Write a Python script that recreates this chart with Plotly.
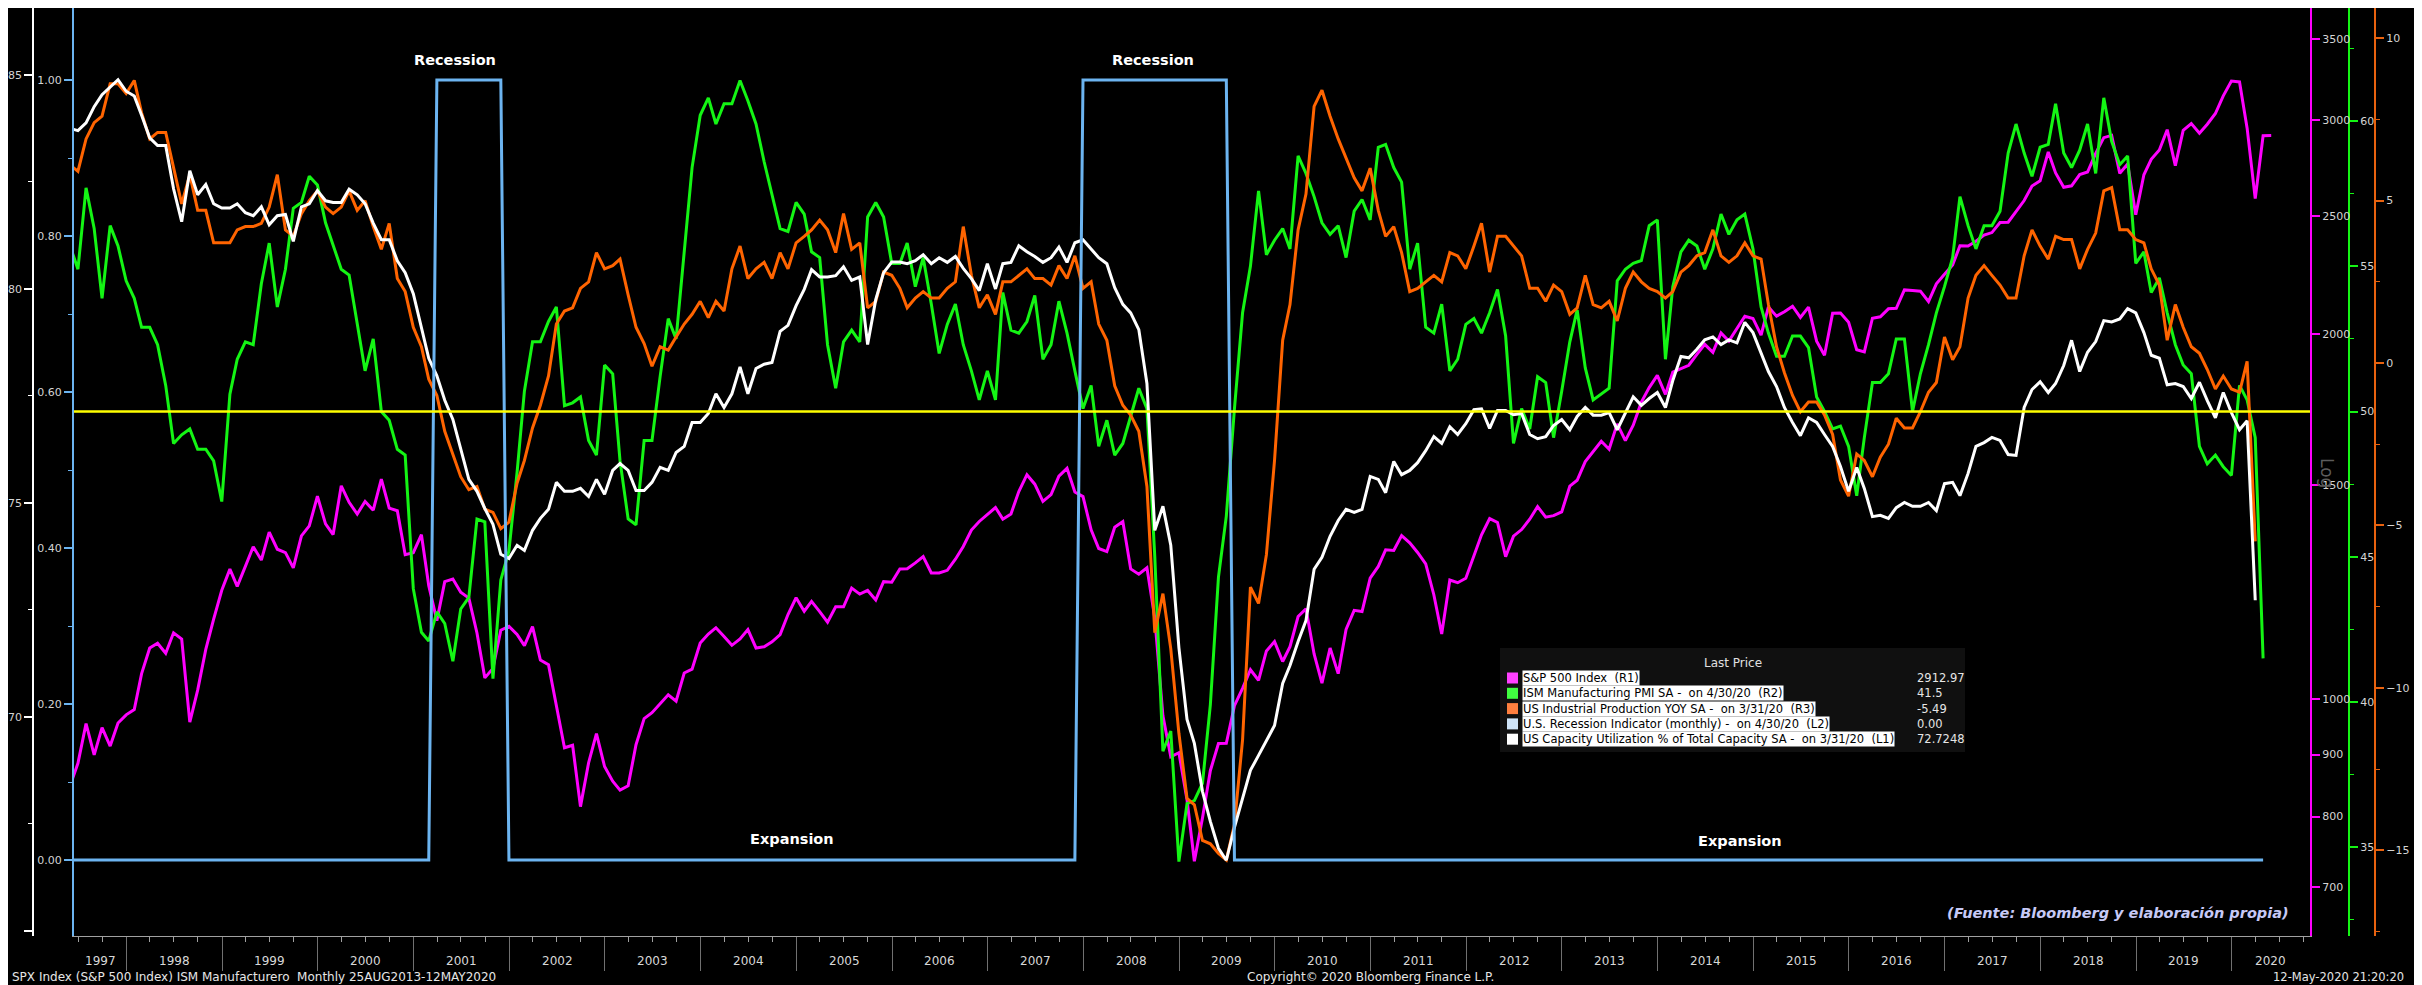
import pandas as pd
import plotly.graph_objects as go

# Reference canvas is 2422x985; the page body adds an 8px white margin on top/left,
# so the figure itself is 8px smaller and every position below is in reference pixels.
W, H = 2422, 985
OFF = 8
FW, FH = W - OFF, H - OFF

# Monthly (month-end) values from May-1997; the May-1997 point sits just left of the plot edge.
SPX = [
    848.28, 885.14, 954.31, 899.47, 947.28, 914.62, 955.40, 970.43,
    980.28, 1049.34, 1101.75, 1111.75, 1090.82, 1133.84, 1120.67, 957.28, 1017.01, 1098.67, 1163.63, 1229.23,
    1279.64, 1238.33, 1286.37, 1335.18, 1301.84, 1372.71, 1328.72, 1320.41, 1282.71, 1362.93, 1388.91, 1469.25,
    1394.46, 1366.42, 1498.58, 1452.43, 1420.60, 1454.60, 1430.83, 1517.68, 1436.51, 1429.40, 1314.95, 1320.28,
    1366.01, 1239.94, 1160.33, 1249.46, 1255.82, 1224.42, 1211.23, 1133.58, 1040.94, 1059.78, 1139.45, 1148.08,
    1130.20, 1106.73, 1147.39, 1076.92, 1067.14, 989.82, 911.62, 916.07, 815.28, 885.76, 936.31, 879.82,
    855.70, 841.15, 848.18, 916.92, 963.59, 974.50, 990.31, 1008.01, 995.97, 1050.71, 1058.20, 1111.92,
    1131.13, 1144.94, 1126.21, 1107.30, 1120.68, 1140.84, 1101.72, 1104.24, 1114.58, 1130.20, 1173.82, 1211.92,
    1181.27, 1203.60, 1180.59, 1156.85, 1191.50, 1191.33, 1234.18, 1220.33, 1228.81, 1207.01, 1249.48, 1248.29,
    1280.08, 1280.66, 1294.83, 1310.61, 1270.09, 1270.20, 1276.66, 1303.82, 1335.85, 1377.94, 1400.63, 1418.30,
    1438.24, 1406.82, 1420.86, 1482.37, 1530.62, 1503.35, 1455.27, 1473.99, 1526.75, 1549.38, 1481.14, 1468.36,
    1378.55, 1330.63, 1322.70, 1385.59, 1400.38, 1280.00, 1267.38, 1282.83, 1166.36, 968.75, 896.24, 903.25,
    825.88, 735.09, 797.87, 872.81, 919.14, 919.32, 987.48, 1020.62, 1057.08, 1036.19, 1095.63, 1115.10,
    1073.87, 1104.49, 1169.43, 1186.69, 1089.41, 1030.71, 1101.60, 1049.33, 1141.20, 1183.26, 1180.55, 1257.64,
    1286.12, 1327.22, 1325.83, 1363.61, 1345.20, 1320.64, 1292.28, 1218.89, 1131.42, 1253.30, 1246.96, 1257.60,
    1312.41, 1365.68, 1408.47, 1397.91, 1310.33, 1362.16, 1379.32, 1406.58, 1440.67, 1412.16, 1416.18, 1426.19,
    1498.11, 1514.68, 1569.19, 1597.57, 1630.74, 1606.28, 1685.73, 1632.97, 1681.55, 1756.54, 1805.81, 1848.36,
    1782.59, 1859.45, 1872.34, 1883.95, 1923.57, 1960.23, 1930.67, 2003.37, 1972.29, 2018.05, 2067.56, 2058.90,
    1994.99, 2104.50, 2067.89, 2085.51, 2107.39, 2063.11, 2103.84, 1972.18, 1920.03, 2079.36, 2080.41, 2043.94,
    1940.24, 1932.23, 2059.74, 2065.30, 2096.95, 2098.86, 2173.60, 2170.95, 2168.27, 2126.15, 2198.81, 2238.83,
    2278.87, 2363.64, 2362.72, 2384.20, 2411.80, 2423.41, 2470.30, 2471.65, 2519.36, 2575.26, 2647.58, 2673.61,
    2823.81, 2713.83, 2640.87, 2648.05, 2705.27, 2718.37, 2816.29, 2901.52, 2913.98, 2711.74, 2760.17, 2506.85,
    2704.10, 2784.49, 2834.40, 2945.83, 2752.06, 2941.76, 2980.38, 2926.46, 2976.74, 3037.56, 3140.98, 3230.78,
    3225.52, 2954.22, 2584.59, 2912.43, 2912.97,
]

ISM_PMI = [
    55.7, 54.9, 57.7, 56.3, 53.9, 56.4, 55.7, 54.5,
    53.9, 52.9, 52.9, 52.3, 50.9, 48.9, 49.2, 49.4, 48.7, 48.7, 48.3, 46.9,
    50.6, 51.8, 52.4, 52.3, 54.4, 55.8, 53.6, 54.9, 57.0, 57.2, 58.1, 57.8,
    56.5, 55.7, 54.9, 54.7, 53.0, 51.4, 52.5, 50.0, 49.7, 48.7, 48.5, 43.9,
    42.4, 42.1, 43.1, 42.7, 41.4, 43.2, 43.6, 46.3, 46.2, 40.8, 44.2, 45.2,
    47.9, 50.7, 52.4, 52.4, 53.1, 53.6, 50.2, 50.3, 50.5, 49.0, 48.5, 51.6,
    51.3, 48.3, 46.3, 46.1, 49.0, 49.0, 51.2, 53.2, 52.5, 55.4, 58.4, 60.2,
    60.8, 59.9, 60.6, 60.6, 61.4, 60.7, 59.9, 58.6, 57.5, 56.3, 56.2, 57.2,
    56.8, 55.5, 55.3, 52.3, 50.8, 52.4, 52.8, 52.4, 56.7, 57.2, 56.7, 55.1,
    55.1, 55.8, 54.3, 55.3, 53.7, 52.0, 53.0, 53.7, 52.3, 51.4, 50.4, 51.4,
    50.4, 54.1, 52.8, 52.7, 53.1, 54.0, 51.8, 52.3, 53.8, 52.7, 51.4, 50.1,
    50.9, 48.8, 49.7, 48.5, 48.9, 49.8, 50.8, 50.1, 45.0, 38.3, 39.0, 34.5,
    36.5, 36.6, 37.2, 39.9, 44.3, 46.4, 50.1, 53.4, 55.0, 57.6, 55.4, 55.9,
    56.3, 55.6, 58.8, 58.2, 57.4, 56.5, 56.1, 56.4, 55.3, 56.9, 57.3, 56.6,
    59.1, 59.2, 58.4, 57.9, 54.9, 55.8, 52.9, 52.7, 53.7, 51.4, 51.8, 53.0,
    53.2, 52.7, 53.4, 54.2, 52.6, 48.9, 50.1, 49.4, 51.2, 51.0, 49.1, 50.7,
    52.4, 53.5, 51.5, 50.4, 50.6, 50.8, 54.5, 54.9, 55.1, 55.2, 56.4, 56.6,
    51.8, 54.3, 55.5, 55.9, 55.7, 54.9, 55.6, 56.8, 56.1, 56.6, 56.8, 55.6,
    53.6, 52.7, 51.9, 51.9, 52.6, 52.6, 52.2, 50.5, 50.0, 49.4, 49.5, 48.8,
    47.1, 49.1, 51.0, 51.0, 51.3, 52.5, 52.5, 50.0, 51.3, 52.3, 53.4, 54.3,
    55.3, 57.4, 56.4, 55.6, 56.4, 56.4, 56.9, 58.9, 59.9, 58.9, 58.1, 59.1,
    59.2, 60.6, 58.9, 58.4, 59.0, 59.9, 58.2, 60.8, 59.3, 58.5, 58.8, 55.1,
    55.5, 54.1, 54.6, 53.4, 52.3, 51.6, 51.3, 48.8, 48.2, 48.5, 48.1, 47.8,
    50.9, 50.4, 49.1, 41.5,
]

IP_YOY = [
    6.1, 5.9, 6.9, 7.4, 7.6, 8.6, 8.6, 8.3,
    8.7, 7.7, 6.9, 7.1, 7.1, 6.0, 4.9, 5.8, 4.7, 4.7, 3.7, 3.7,
    3.7, 4.1, 4.2, 4.2, 4.3, 4.8, 5.8, 4.1, 3.9, 4.6, 5.0, 5.3,
    4.8, 4.6, 4.8, 5.3, 4.7, 5.0, 4.2, 3.5, 4.3, 2.6, 2.2, 1.1,
    0.5, -0.5, -1.0, -2.1, -2.8, -3.5, -3.9, -3.8, -4.5, -4.6, -5.1, -4.9,
    -3.7, -3.0, -2.0, -1.3, -0.4, 1.2, 1.6, 1.7, 2.3, 2.5, 3.4, 2.9,
    3.0, 3.2, 2.1, 1.1, 0.6, -0.1, 0.5, 0.4, 0.8, 1.2, 1.5, 1.9,
    1.4, 1.9, 1.6, 2.9, 3.6, 2.6, 2.9, 3.1, 2.6, 3.4, 2.9, 3.7,
    3.9, 4.1, 4.4, 4.1, 3.4, 4.6, 3.5, 3.7, 1.7, 1.9, 2.8, 2.7,
    2.3, 1.7, 2.0, 2.2, 2.0, 2.0, 2.3, 2.5, 4.2, 2.7, 1.7, 2.1,
    1.5, 2.5, 2.5, 2.7, 2.9, 2.6, 2.6, 2.4, 3.0, 2.6, 3.3, 2.3,
    2.5, 1.2, 0.7, -0.7, -1.3, -1.6, -2.1, -3.8, -8.3, -7.1, -8.8, -11.4,
    -13.4, -13.6, -14.7, -14.8, -15.1, -15.3, -14.2, -11.6, -6.9, -7.4, -5.9, -3.0,
    0.7, 1.8, 4.1, 5.2, 7.9, 8.4, 7.6, 6.9, 6.3, 5.7, 5.3, 6.0,
    4.7, 3.9, 4.2, 3.4, 2.2, 2.3, 2.5, 2.7, 2.5, 3.4, 3.3, 2.9,
    3.6, 4.3, 2.8, 3.9, 3.9, 3.6, 3.3, 2.3, 2.3, 1.9, 2.4, 2.2,
    1.5, 1.7, 2.7, 1.8, 1.7, 1.9, 1.3, 2.3, 2.8, 2.5, 2.3, 2.2,
    2.0, 2.2, 2.8, 3.0, 3.3, 3.4, 4.1, 3.3, 3.1, 3.3, 3.7, 3.3,
    3.2, 1.8, 0.5, -0.3, -1.0, -1.5, -1.2, -1.2, -1.6, -2.2, -3.6, -4.1,
    -2.8, -3.0, -3.5, -2.9, -2.5, -1.7, -2.0, -2.0, -1.5, -0.9, -0.6, 0.8,
    0.1, 0.5, 2.0, 2.7, 3.0, 2.7, 2.4, 2.0, 2.0, 3.3, 4.1, 3.6,
    3.2, 3.9, 3.8, 3.8, 2.9, 3.5, 4.0, 5.3, 5.4, 4.1, 4.1, 3.8,
    3.7, 2.9, 2.4, 0.7, 1.8, 1.1, 0.5, 0.3, -0.2, -0.8, -0.4, -0.8,
    -0.9, 0.05, -5.49,
]

CAP_UTIL = [
    83.75, 83.70, 83.88, 84.26, 84.54, 84.72, 84.89, 84.62,
    84.51, 84.06, 83.53, 83.35, 83.35, 82.34, 81.57, 82.76, 82.20, 82.44, 81.99, 81.89,
    81.89, 81.99, 81.78, 81.71, 81.92, 81.50, 81.71, 81.74, 81.11, 81.92, 81.99, 82.30,
    82.06, 82.02, 82.02, 82.33, 82.20, 81.99, 81.54, 81.15, 81.15, 80.66, 80.38, 79.89,
    79.12, 78.38, 77.97, 77.40, 76.95, 76.25, 75.55, 75.27, 74.87, 74.50, 73.80, 73.70,
    74.01, 73.89, 74.36, 74.64, 74.85, 75.48, 75.27, 75.27, 75.34, 75.15, 75.55, 75.20,
    75.76, 75.92, 75.76, 75.29, 75.29, 75.48, 75.83, 75.76, 76.18, 76.32, 76.88, 76.88,
    77.09, 77.55, 77.23, 77.55, 78.18, 77.55, 78.14, 78.24, 78.28, 79.01, 79.15, 79.61,
    79.99, 80.45, 80.28, 80.28, 80.31, 80.52, 80.20, 80.28, 78.70, 79.75, 80.38, 80.63,
    80.63, 80.59, 80.66, 80.80, 80.59, 80.73, 80.62, 80.76, 80.48, 80.24, 79.96, 80.59,
    80.00, 80.59, 80.62, 81.01, 80.87, 80.76, 80.62, 80.73, 80.98, 80.62, 81.08, 81.15,
    80.94, 80.73, 80.59, 80.03, 79.64, 79.44, 79.05, 77.79, 74.36, 74.92, 74.01, 71.62,
    69.94, 69.38, 68.26, 67.56, 66.93, 66.65, 67.42, 68.12, 68.75, 69.10, 69.45, 69.80,
    70.78, 71.20, 71.76, 72.25, 73.45, 73.73, 74.22, 74.59, 74.85, 74.78, 74.85, 75.62,
    75.55, 75.24, 75.97, 75.66, 75.76, 75.94, 76.22, 76.55, 76.39, 76.78, 76.60, 76.85,
    77.18, 77.20, 76.74, 77.16, 77.16, 77.06, 77.09, 76.60, 76.50, 76.55, 76.81, 76.95,
    76.71, 77.02, 77.23, 77.05, 77.05, 77.11, 76.71, 77.09, 77.48, 77.28, 77.44, 77.58,
    77.23, 77.86, 78.42, 78.39, 78.59, 78.81, 78.88, 78.70, 78.81, 78.74, 79.22, 78.98,
    78.49, 78.07, 77.72, 77.23, 76.88, 76.57, 76.99, 76.88, 76.60, 76.32, 75.85, 75.27,
    75.83, 75.34, 74.68, 74.71, 74.64, 74.89, 75.01, 74.92, 74.92, 75.01, 74.82, 75.45,
    75.48, 75.17, 75.69, 76.32, 76.41, 76.53, 76.46, 76.13, 76.11, 77.23, 77.65, 77.83,
    77.58, 77.79, 78.21, 78.80, 78.07, 78.52, 78.77, 79.26, 79.23, 79.30, 79.54, 79.44,
    78.98, 78.45, 78.38, 77.76, 77.79, 77.72, 77.44, 77.82, 77.39, 76.99, 77.58, 77.11,
    76.71, 76.92, 72.7248,
]

US_RECESSION = [
    0, 0, 0, 0, 0, 0, 0, 0,
    0, 0, 0, 0, 0, 0, 0, 0, 0, 0, 0, 0,
    0, 0, 0, 0, 0, 0, 0, 0, 0, 0, 0, 0,
    0, 0, 0, 0, 0, 0, 0, 0, 0, 0, 0, 0,
    0, 0, 1, 1, 1, 1, 1, 1, 1, 1, 1, 0,
    0, 0, 0, 0, 0, 0, 0, 0, 0, 0, 0, 0,
    0, 0, 0, 0, 0, 0, 0, 0, 0, 0, 0, 0,
    0, 0, 0, 0, 0, 0, 0, 0, 0, 0, 0, 0,
    0, 0, 0, 0, 0, 0, 0, 0, 0, 0, 0, 0,
    0, 0, 0, 0, 0, 0, 0, 0, 0, 0, 0, 0,
    0, 0, 0, 0, 0, 0, 0, 0, 0, 0, 0, 1,
    1, 1, 1, 1, 1, 1, 1, 1, 1, 1, 1, 1,
    1, 1, 1, 1, 1, 1, 0, 0, 0, 0, 0, 0,
    0, 0, 0, 0, 0, 0, 0, 0, 0, 0, 0, 0,
    0, 0, 0, 0, 0, 0, 0, 0, 0, 0, 0, 0,
    0, 0, 0, 0, 0, 0, 0, 0, 0, 0, 0, 0,
    0, 0, 0, 0, 0, 0, 0, 0, 0, 0, 0, 0,
    0, 0, 0, 0, 0, 0, 0, 0, 0, 0, 0, 0,
    0, 0, 0, 0, 0, 0, 0, 0, 0, 0, 0, 0,
    0, 0, 0, 0, 0, 0, 0, 0, 0, 0, 0, 0,
    0, 0, 0, 0, 0, 0, 0, 0, 0, 0, 0, 0,
    0, 0, 0, 0, 0, 0, 0, 0, 0, 0, 0, 0,
    0, 0, 0, 0, 0, 0, 0, 0, 0, 0, 0, 0,
    0, 0, 0, 0,
]

YEARS = list(range(1997, 2021))

LEGEND_LABELS = [
    "S&amp;P 500 Index  (R1)",
    "ISM Manufacturing PMI SA -  on 4/30/20  (R2)",
    "US Industrial Production YOY SA -  on 3/31/20  (R3)",
    "U.S. Recession Indicator (monthly) -  on 4/30/20  (L2)",
    "US Capacity Utilization % of Total Capacity SA -  on 3/31/20  (L1)",
]
LAST_PRICES = ["2912.97", "41.5", "-5.49", "0.00", "72.7248"]

MAGENTA, GREEN, ORANGE = "#ff00ff", "#14f514", "#ff6400"
BLUE, WHITE, YELLOW = "#6cb4f0", "#ffffff", "#ffff00"
SWATCHES = ["#ff40ff", "#40ff40", "#ff7f3f", "#cfe4f8", "#ffffff"]

FONT = "DejaVu Sans, Verdana, sans-serif"
X_START, X_END = "1997-06-15", "2020-10-26"


def px(x):
    return (x - OFF) / FW


def py(y):
    return (FH - (y - OFF)) / FH


def months(n):
    return pd.date_range("1997-05-31", periods=n, freq=pd.offsets.MonthEnd())


fig = go.Figure()
# draw order: S&P at the bottom, recession line on top
series = [
    (SPX, "y", MAGENTA), (ISM_PMI, "y2", GREEN), (IP_YOY, "y3", ORANGE),
    (CAP_UTIL, "y4", WHITE), (US_RECESSION, "y5", BLUE),
]
for vals, axis, color in series:
    fig.add_scatter(x=months(len(vals)), y=vals, yaxis=axis, mode="lines",
                    line={"color": color, "width": 3}, hoverinfo="skip", showlegend=False)

tick_font = {"family": FONT, "size": 11, "color": "#d4d4d4"}
y_dom = [py(936), 1.0]  # plot area spans reference rows 8..936


def yax(color, **kw):
    d = dict(domain=y_dom, showgrid=False, zeroline=False, showline=True, linecolor=color,
             linewidth=2, ticks="outside", ticklen=8, tickwidth=2, tickcolor=color,
             tickfont=tick_font, automargin=False, fixedrange=True)
    d.update(kw)
    return d


def minor(color, vals):
    return {"tickvals": vals, "ticks": "outside", "ticklen": 4, "tickwidth": 1, "tickcolor": color}


spx_ticks = [700, 800, 900, 1000, 1500, 2000, 2500, 3000, 3500]
fig.update_layout(
    width=FW, height=FH,
    margin={"l": 0, "r": 0, "t": 0, "b": 0},
    paper_bgcolor="#000000", plot_bgcolor="#000000",
    showlegend=False,
    xaxis=dict(
        domain=[px(74), px(2310)], type="date", range=[X_START, X_END],
        showgrid=False, zeroline=False, showline=True, linecolor="#a0a0a0", linewidth=1,
        tickvals=[f"{y}-01-01" for y in YEARS[1:]], ticks="outside", ticklen=34,
        tickcolor="#707070", tickwidth=1, showticklabels=False,
        minor={"ticks": "outside", "ticklen": 5, "tickcolor": "#a0a0a0", "dtick": "M3",
               "tick0": "1997-01-01"},
        automargin=False, fixedrange=True,
    ),
    yaxis=yax(MAGENTA, type="log", side="right", range=[2.8047, 3.5695],
              tickvals=spx_ticks, ticktext=[str(v) for v in spx_ticks]),
    yaxis2=yax(GREEN, overlaying="y", anchor="free", position=px(2349), side="right",
               range=[31.94, 63.895], tickvals=[35, 40, 45, 50, 55, 60],
               minor=minor(GREEN, [32.5, 37.5, 42.5, 47.5, 52.5, 57.5, 62.5])),
    yaxis3=yax("#e8620f", overlaying="y", anchor="free", position=px(2375), side="right",
               range=[-17.64, 10.93], tickvals=[-15, -10, -5, 0, 5, 10],
               minor=minor("#e8620f", [-17.5, -12.5, -7.5, -2.5, 2.5, 7.5])),
    yaxis4=yax(WHITE, overlaying="y", anchor="free", position=px(33), side="left",
               range=[64.88, 86.565], linewidth=1.5, tickvals=[65, 70, 75, 80, 85],
               ticktext=["", "70", "75", "80", "85"],
               minor=minor(WHITE, [67.5, 72.5, 77.5, 82.5])),
    yaxis5=yax(BLUE, overlaying="y", anchor="x", side="left", range=[-0.0974, 1.0923],
               tickvals=[0, 0.2, 0.4, 0.6, 0.8, 1.0],
               ticktext=["0.00", "0.20", "0.40", "0.60", "0.80", "1.00"],
               minor=minor(BLUE, [0.1, 0.3, 0.5, 0.7, 0.9])),
)

# ISM 50 reference line
fig.add_shape(type="line", xref="paper", yref="y2", x0=px(74), x1=px(2310), y0=50, y1=50,
              line={"color": YELLOW, "width": 2.5}, layer="above")


def note(text, x, y, size=11, color="#d4d4d4", xanchor="center", **kw):
    fig.add_annotation(text=text, xref="paper", yref="paper", x=px(x), y=py(y),
                       xanchor=xanchor, yanchor="middle", showarrow=False,
                       font={"family": FONT, "size": size, "color": color}, **kw)


# year labels centred in each (visible) year band
for yr in YEARS:
    start = max(pd.Timestamp(f"{yr}-01-01"), pd.Timestamp(X_START))
    end = min(pd.Timestamp(f"{yr + 1}-01-01"), pd.Timestamp(X_END))
    mid = start + (end - start) / 2
    fig.add_annotation(text=str(yr), xref="x", yref="paper", x=mid, y=py(961),
                       showarrow=False, yanchor="middle",
                       font={"family": FONT, "size": 12, "color": "#d8d8d8"})

for label, x, y in [("Recession", 455, 60), ("Recession", 1153, 60),
                    ("Expansion", 792, 839), ("Expansion", 1740, 841)]:
    note(f"<b>{label}</b>", x, y, size=14.5, color="#ffffff")

note("<b><i>(Fuente: Bloomberg y elaboración propia)</i></b>", 2118, 913, size=14.5,
     color="#c6c9f6")
note("Log", 2327, 473, size=17, color="#5c5c5c", textangle=90)

# footer
note("SPX Index (S&amp;P 500 Index) ISM Manufacturero  Monthly 25AUG2013-12MAY2020".replace("  ", "\u00a0\u00a0"),
     10, 977, size=12, color="#e6e6e6", xanchor="left")
note("Copyright© 2020 Bloomberg Finance L.P.", 1370, 977, size=12, color="#e6e6e6")
note("12-May-2020 21:20:20", 2406, 977, size=11.5, color="#e6e6e6", xanchor="right")

# legend box ("Last Price")
fig.add_shape(type="rect", xref="paper", yref="paper", x0=px(1500), x1=px(1965),
              y0=py(752), y1=py(648), fillcolor="#101010", line={"width": 0}, layer="above")
note("Last Price", 1733, 663, size=12, color="#e0e0e0")
row_y = [678, 693.3, 708.6, 723.9, 739.2]
for label, value, swatch, yc in zip(LEGEND_LABELS, LAST_PRICES, SWATCHES, row_y):
    fig.add_shape(type="rect", xref="paper", yref="paper", x0=px(1507), x1=px(1518),
                  y0=py(yc + 5.5), y1=py(yc - 5.5), fillcolor=swatch, line={"width": 0},
                  layer="above")
    note(label.replace("  ", "\u00a0\u00a0"), 1522, yc, size=11.5, color="#000000",
         xanchor="left", bgcolor="#ffffff", borderpad=0)
    note(value, 1915, yc, size=11.5, color="#e6e6e6", xanchor="left")

fig.write_html("out.html")
